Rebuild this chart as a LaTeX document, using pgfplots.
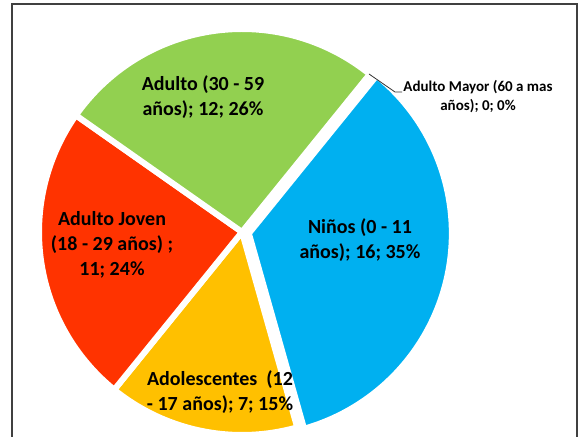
\documentclass[border=0pt]{standalone}
\usepackage{pgfplots}
\usepackage{pgfplotstable}
\pgfplotsset{compat=1.18}
\usepackage{fontspec}
\setmainfont{Carlito}
\definecolor{cNinos}{HTML}{00B0F0}
\definecolor{cAdol}{HTML}{FFC000}
\definecolor{cJoven}{HTML}{FF3300}
\definecolor{cAdulto}{HTML}{92D050}

\pgfplotstableread{
cat value
Ninos 16
Adolescentes 7
AdultoJoven 11
Adulto 12
AdultoMayor 0
}\piedata

\pgfplotstablegetelem{0}{value}\of\piedata\edef\vA{\pgfplotsretval}
\pgfplotstablegetelem{1}{value}\of\piedata\edef\vB{\pgfplotsretval}
\pgfplotstablegetelem{2}{value}\of\piedata\edef\vC{\pgfplotsretval}
\pgfplotstablegetelem{3}{value}\of\piedata\edef\vD{\pgfplotsretval}
\pgfplotstablegetelem{4}{value}\of\piedata\edef\vE{\pgfplotsretval}
\pgfmathsetmacro\tot{\vA+\vB+\vC+\vD+\vE}
\pgfmathsetmacro\sA{51}
\pgfmathsetmacro\eA{\sA-360*\vA/\tot}
\pgfmathsetmacro\mA{(\sA+\eA)/2}
\pgfmathsetmacro\eB{\eA-360*\vB/\tot}
\pgfmathsetmacro\eC{\eB-360*\vC/\tot}
\pgfmathsetmacro\eD{\eC-360*\vD/\tot}
\def\cx{242}
\def\cy{205}
\def\R{203}
\pgfmathsetmacro\ax{\cx+7*cos(\mA)}
\pgfmathsetmacro\ay{\cy+7*sin(\mA)}

\begin{document}
\begin{tikzpicture}
\begin{axis}[x=1pt, y=1pt, xmin=0, xmax=579, ymin=0, ymax=437,
  hide axis, clip=false, scale only axis]
\path (axis cs:0,0) rectangle (axis cs:579,437);
\draw[line width=1.5pt, black!75] (axis cs:12,0) -- (axis cs:12,433) -- (axis cs:577,433) -- (axis cs:577,0);
% slices
\addplot[fill=cNinos, draw=white, line width=6pt, line join=round, domain=\eA:\sA, samples=120, variable=\t]
  ({\ax+\R*cos(\t)}, {\ay+\R*sin(\t)}) -- (axis cs:\ax,\ay) -- cycle;
\addplot[fill=cAdol, draw=white, line width=6pt, line join=round, domain=\eB:\eA, samples=60, variable=\t]
  ({\cx+\R*cos(\t)}, {\cy+\R*sin(\t)}) -- (axis cs:\cx,\cy) -- cycle;
\addplot[fill=cJoven, draw=white, line width=6pt, line join=round, domain=\eC:\eB, samples=90, variable=\t]
  ({\cx+\R*cos(\t)}, {\cy+\R*sin(\t)}) -- (axis cs:\cx,\cy) -- cycle;
\addplot[fill=cAdulto, draw=white, line width=6pt, line join=round, domain=\eD:\eC, samples=90, variable=\t]
  ({\cx+\R*cos(\t)}, {\cy+\R*sin(\t)}) -- (axis cs:\cx,\cy) -- cycle;
% leader line for zero slice
\draw[black!80, line width=0.8pt] (axis cs:369,363) -- (axis cs:395,345) -- (axis cs:402,345);
% labels
\begin{scope}[every node/.style={align=center, font=\bfseries\fontsize{20}{25}\selectfont, inner sep=0pt}]
\node at (axis cs:203,340) {Adulto (30 - 59\\años); 12; 26\%};
\node at (axis cs:360,197) {Niños (0 - 11\\años); 16; 35\%};
\node at (axis cs:112,192) {Adulto Joven\\(18 - 29 años) ;\\11; 24\%};
\node at (axis cs:220,45) {Adolescentes\ \ (12\\- 17 años); 7; 15\%};
\end{scope}
\node[align=center, font=\bfseries\fontsize{15}{19}\selectfont, inner sep=0pt] at (axis cs:478,340) {Adulto Mayor (60 a mas\\años); 0; 0\%};
\end{axis}
\end{tikzpicture}
\end{document}
